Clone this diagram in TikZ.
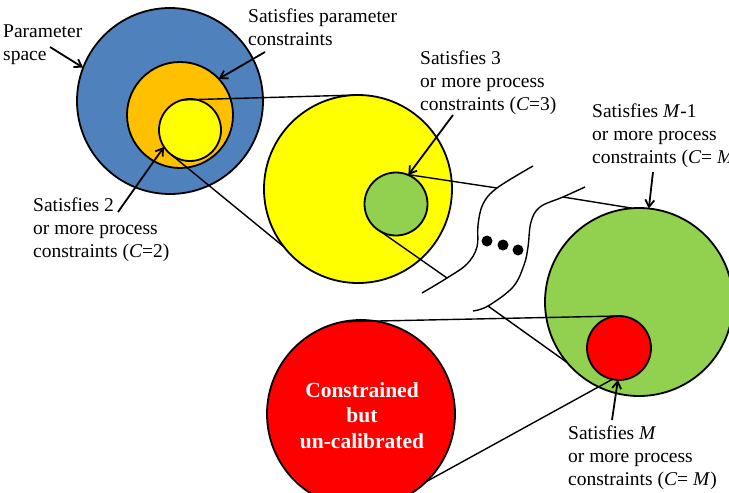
\documentclass[tikz,border=0pt]{standalone}
\usepackage{fontspec}
\setmainfont{Liberation Serif}
\usetikzlibrary{arrows.meta}
\definecolor{pblue}{RGB}{79,129,189}
\definecolor{porange}{RGB}{255,192,0}
\definecolor{pyellow}{RGB}{255,255,0}
\definecolor{pgreen}{RGB}{146,208,80}
\definecolor{pred}{RGB}{255,0,0}
\begin{document}
\begin{tikzpicture}[x=1pt,y=-1pt,
  region/.style={circle, draw=black, line width=1.8pt, inner sep=0pt, outer sep=0pt},
  zoomline/.style={line width=1.4pt},
  callout/.style={line width=1.8pt, -{Straight Barb[length=7pt,width=9pt]}},
  lbl/.style={font=\fontsize{19.5}{23}\selectfont, align=left, anchor=base west, inner sep=0pt},
  inlbl/.style={font=\fontsize{21.5}{25.5}\selectfont\bfseries, text=white, align=center, anchor=base, inner sep=0pt}]
\clip (0,0) rectangle (729,493);
% regions
\node[region, fill=pblue,   minimum size=186pt] (blue) at (170,101) {};
\node[region, fill=porange, minimum size=106pt] (orange) at (180,115) {};
\node[region, fill=pyellow, minimum size=62pt]  (ys) at (190,130) {};
\node[region, fill=pyellow, minimum size=188pt] (yb) at (358,189) {};
\node[region, fill=pgreen,  minimum size=63pt]  (gs) at (396,204) {};
\node[region, fill=pgreen,  minimum size=188pt] (gb) at (639,302) {};
\node[region, fill=pred,    minimum size=188pt] (rb) at (361,414) {};
% zoom lines
\draw[zoomline] (ys.104) -- (yb.91);
\draw[zoomline] (ys.234) -- (yb.218);
\coordinate (j1) at (497,188);
\coordinate (j2) at (563,197);
\coordinate (j3) at (447,278);
\coordinate (j4) at (488,306);
\draw[zoomline] (gs.70) -- (j1);
\draw[zoomline] (j2) -- (gb.94);
\draw[zoomline] (gs.241) -- (j3);
\draw[zoomline] (j4) -- (gb.220);
% break marks
\draw[zoomline] plot[smooth, tension=0.6] coordinates {(533,166) (497,188) (483,204) (478,225) (477,247) (467,264) (447,278) (422,293)};
\draw[zoomline] plot[smooth, tension=0.6] coordinates {(585,187) (563,197) (540,207) (531,222) (528,247) (524,265) (513,287) (488,306) (473,311)};
\fill (487,241) circle (5.5pt);
\fill (503,245) circle (5.5pt);
\fill (518,250) circle (5.5pt);
\node[region, fill=pred, minimum size=64pt] (rs) at (619,348) {};
\draw[zoomline] (rb.101) -- (rs.92);
\draw[zoomline] (rb.314) -- (rs.258);
% labels
\node[lbl] (tps) at (3,60) {Parameter\\space};
\node[lbl] (tspc) at (248,45) {Satisfies parameter\\constraints};
\node[lbl] (ts3) at (420,110) {Satisfies 3\\or more process\\constraints (\textit{C}=3)};
\node[lbl] (ts2) at (33,257) {Satisfies 2\\or more process\\constraints (\textit{C}=2)};
\node[lbl] (tsm1) at (592,163) {Satisfies \textit{M}-1\\or more process\\constraints (\textit{C}= \textit{M})};
\node[lbl] (tsm) at (568,485) {Satisfies \textit{M}\\or more process\\constraints (\textit{C}= \textit{M})};
\node[inlbl] (tcu) at (362,448) {Constrained\\but\\un-calibrated};
% callouts
\coordinate (aps) at (50,47);
\coordinate (aspc) at (265,52);
\coordinate (as2) at (118,212);
\coordinate (as3) at (453,115);
\coordinate (asm1) at (653,172);
\coordinate (asm) at (612,420);
\draw[callout] (aps) -- (blue.159);
\draw[callout] (aspc) -- (orange.43);
\draw[callout] (as2) -- (ys.213);
\draw[callout] (as3) -- (gs.67);
\draw[callout] (asm1) -- (gb.84);
\draw[callout] (asm) -- (rs.268);
\end{tikzpicture}
\end{document}
